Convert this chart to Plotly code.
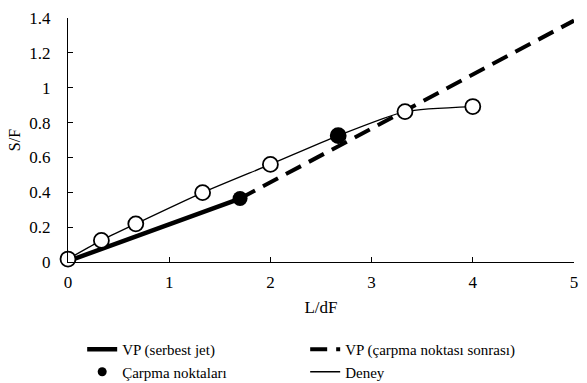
import plotly.graph_objects as go

# Data
deney_x = [0, 0.33, 0.67, 1.33, 2.0, 2.67, 3.33, 4.0]
deney_y = [0.017, 0.124, 0.219, 0.398, 0.56, 0.725, 0.863, 0.892]

impact_x = [1.70, 2.67]
impact_y = [0.364, 0.725]

vp_free_x = [0, 1.70]
vp_free_y = [0.005, 0.364]

vp_after_x = [1.70, 5.0]
vp_after_y = [0.364, 1.385]

x_ticks = [0, 1, 2, 3, 4, 5]
y_ticks = [0, 0.2, 0.4, 0.6, 0.8, 1, 1.2, 1.4]
y_tick_text = ["0", "0.2", "0.4", "0.6", "0.8", "1", "1.2", "1.4"]

FONT = "'Liberation Serif', 'Times New Roman', 'DejaVu Serif', serif"

fig = go.Figure()

fig.add_trace(go.Scatter(
    x=vp_free_x, y=vp_free_y, mode="lines", name="VP (serbest jet)", legendrank=1,
    line=dict(color="black", width=4.5),
))
fig.add_trace(go.Scatter(
    x=vp_after_x, y=vp_after_y, mode="lines", name="VP (çarpma noktası sonrası)", legendrank=2,
    line=dict(color="black", width=4, dash="17px,9px"),
))
fig.add_trace(go.Scatter(
    x=deney_x, y=deney_y, mode="lines", name="Deney", legendrank=4,
    line=dict(color="black", width=1.3, shape="spline", smoothing=0.6),
))
fig.add_trace(go.Scatter(
    x=deney_x, y=deney_y, mode="markers", showlegend=False, cliponaxis=False,
    marker=dict(symbol="circle", size=15, color="white", line=dict(width=1.8, color="black")),
))
fig.add_trace(go.Scatter(
    x=impact_x, y=impact_y, mode="markers", name="Çarpma noktaları", showlegend=False,
    cliponaxis=False,
    marker=dict(symbol="circle", size=15, color="black"),
))
# legend entry for impact points (smaller symbol, as in the reference legend)
fig.add_trace(go.Scatter(
    x=[None], y=[None], mode="markers", name="Çarpma noktaları", legendrank=3,
    marker=dict(symbol="circle", size=9, color="black"),
))

fig.update_layout(
    width=587, height=383,
    margin=dict(l=68, r=9, t=16, b=121),
    paper_bgcolor="white", plot_bgcolor="white",
    font=dict(family=FONT, size=17, color="black"),
    showlegend=True,
    legend=dict(
        orientation="h", xref="container", yref="container",
        x=0.14, y=0.1305, xanchor="left", yanchor="top",
        entrywidth=178, entrywidthmode="pixels",
        traceorder="normal",
        font=dict(family=FONT, size=15, color="black"),
        bgcolor="rgba(0,0,0,0)",
        tracegroupgap=0,
    ),
    xaxis=dict(
        range=[0, 5], tickvals=x_ticks, ticktext=[str(v) for v in x_ticks],
        showgrid=False, zeroline=False, showline=True, linecolor="black", linewidth=1,
        ticks="inside", ticklen=5, tickcolor="black", ticklabelstandoff=5,
        tickfont=dict(family=FONT, size=17),
        title=dict(text="L/dF", font=dict(family=FONT, size=17), standoff=9),
    ),
    yaxis=dict(
        range=[0, 1.4], tickvals=y_ticks, ticktext=y_tick_text,
        showgrid=False, zeroline=False, showline=True, linecolor="black", linewidth=1,
        ticks="inside", ticklen=5, tickcolor="black", ticklabelstandoff=13,
        tickfont=dict(family=FONT, size=17),
        title=dict(text="S/F", font=dict(family=FONT, size=16), standoff=4),
    ),
)

fig.write_html("out.html")
